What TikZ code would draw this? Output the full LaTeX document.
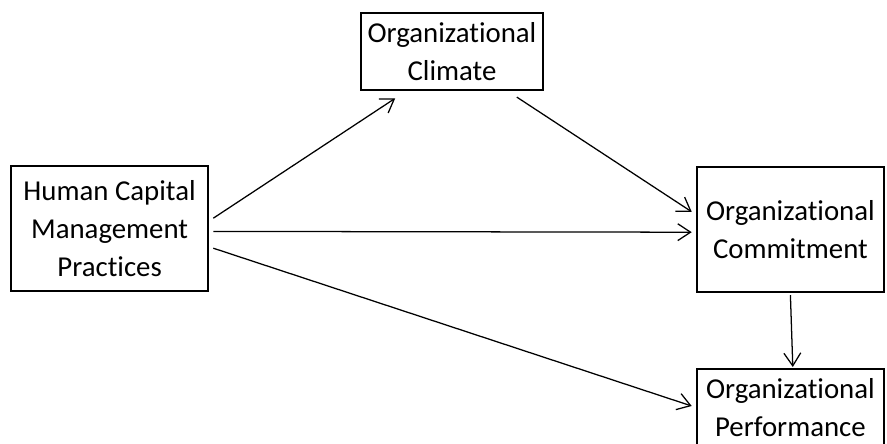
\documentclass[tikz,border=0pt]{standalone}
\usepackage{fontspec}
\setmainfont{Carlito}[Ligatures=NoCommon]
\usepackage{tikz}
\usetikzlibrary{arrows.meta}

\begin{document}
\begin{tikzpicture}[
	box/.style={draw, line width=1.7pt, align=center, inner sep=0pt,
		font=\fontsize{20.5}{27}\selectfont},
	link/.style={line width=0.9pt, -{Straight Barb[length=0.32cm,width=0.42cm,line width=0.9pt]}}]
	\useasboundingbox (0,0) rectangle (22.175,11.075);
	\node[box, minimum width=4.925cm, minimum height=3.125cm] (hcmp) at (2.74,5.36) {Human Capital\\Management\\Practices};
	\node[box, minimum width=4.55cm, minimum height=1.925cm] (clim) at (11.3,9.79) {Organizational\\Climate};
	\node[box, minimum width=4.675cm, minimum height=3.125cm] (comm) at (19.76,5.34) {Organizational\\Commitment};
	\node[box, minimum width=4.675cm, minimum height=1.95cm] (perf) at (19.76,0.875) {Organizational\\Performance};
	% paths
	\draw[link] ([shift={(0.1,0.26)}]hcmp.east) -- ([shift={(-1.42,-0.18)}]clim.south);
	\draw[link] ([shift={(1.62,-0.15)}]clim.south) -- ([shift={(-0.1,0.44)}]comm.west);
	\draw[link] ([shift={(0.1,-0.07)}]hcmp.east) -- ([shift={(-0.1,-0.07)}]comm.west);
	\draw[link] ([shift={(0.1,-0.49)}]hcmp.east) -- ([shift={(-0.1,0.05)}]perf.west);
	\draw[link] ([shift={(0,-0.05)}]comm.south) -- ([shift={(0.06,0.02)}]perf.north);
\end{tikzpicture}
\end{document}
